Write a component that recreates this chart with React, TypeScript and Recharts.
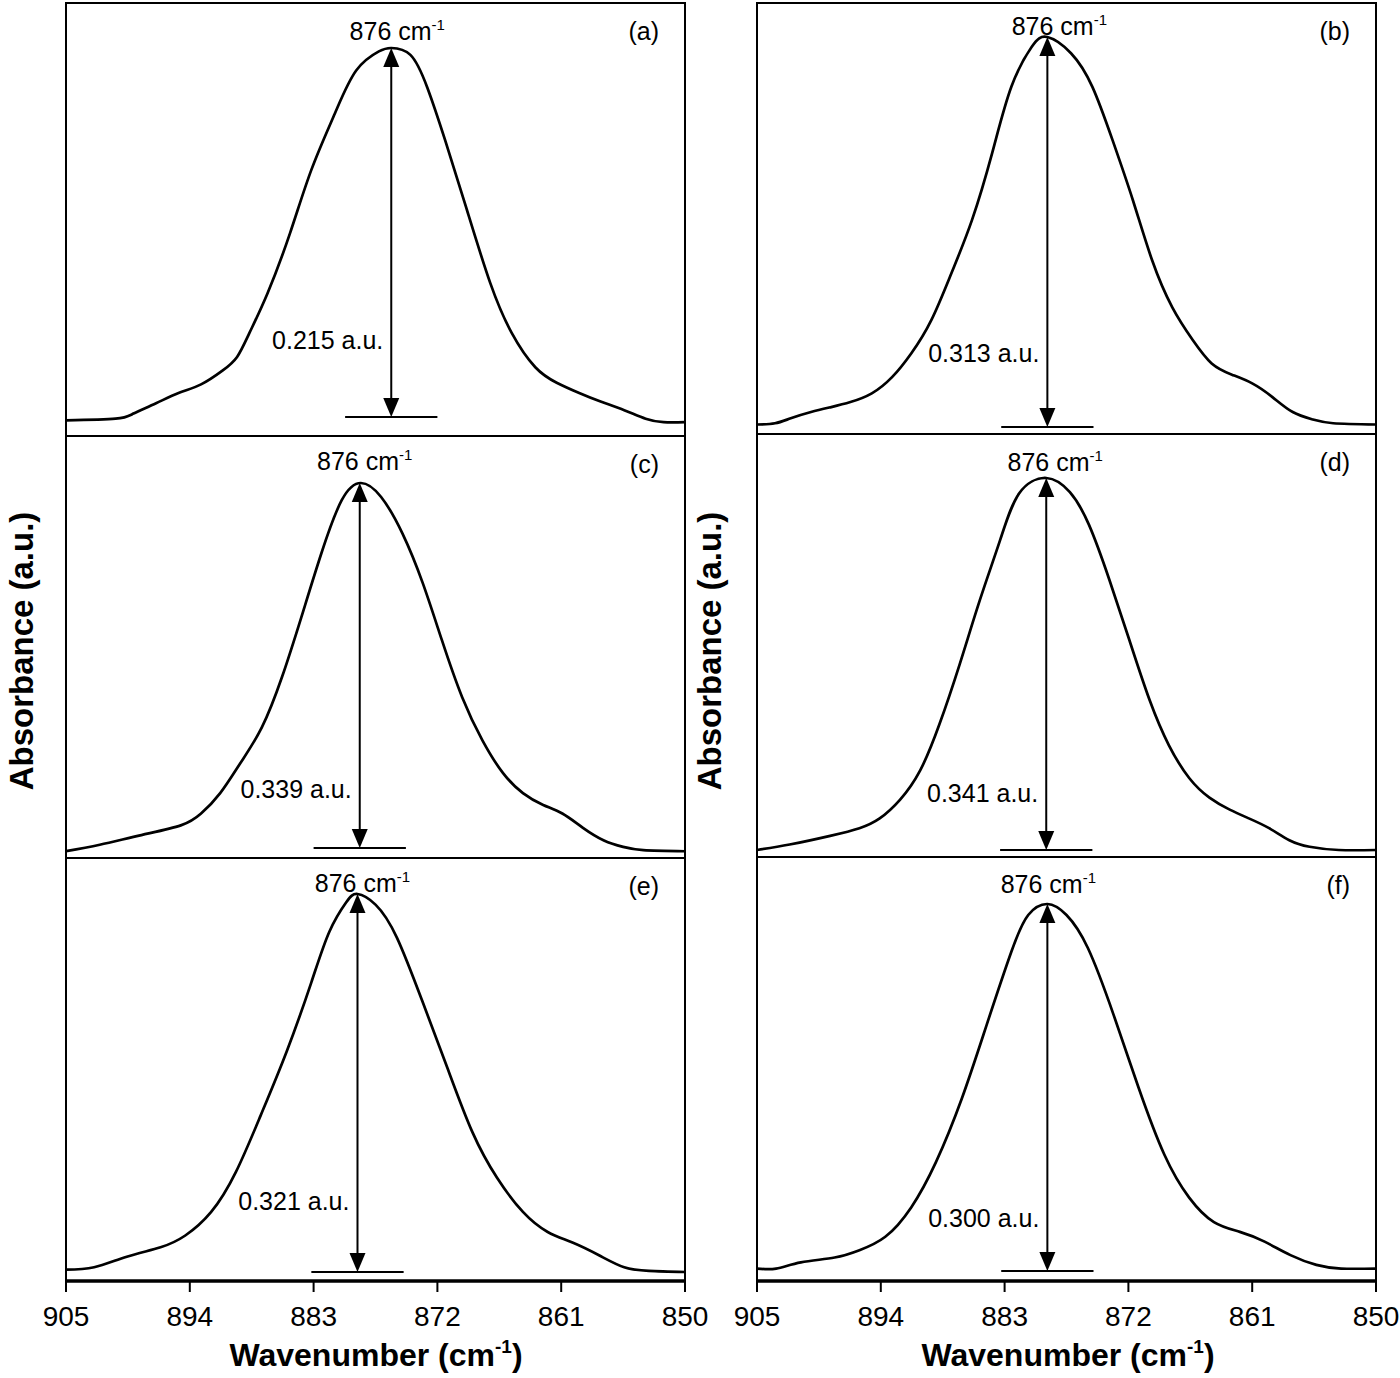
import React from "react";
import { LineChart, Line, XAxis, YAxis, ReferenceLine, ReferenceArea } from "recharts";

const FONT = "'Liberation Sans', Arial, Helvetica, sans-serif";

const TICKS = [905, 894, 883, 872, 861, 850];
const PANEL_TAGS = ["(a)", "(b)", "(c)", "(d)", "(e)", "(f)"];
const PEAK_LABEL = "876";
// measured peak heights (a.u.) and where the arrow stands (cm-1)
const PEAK_HEIGHTS = [0.215, 0.313, 0.339, 0.341, 0.321, 0.3];
const PEAK_POSITIONS = [876.1, 879.2, 878.9, 879.3, 879.1, 879.2];

// [wavenumber (cm-1), absorbance above baseline (a.u.)]
const spectrumA: [number, number][] = [
  [905, -0.002], [900.6, -0.001], [899, 0.002], [897, 0.008], [895, 0.014], [893, 0.019],
  [891.1, 0.027], [889.8, 0.035], [888.7, 0.049], [887.1, 0.072], [885.1, 0.107], [883.2, 0.144],
  [881.1, 0.177], [879.2, 0.202], [877.2, 0.213], [876.1, 0.215], [874.4, 0.211], [872.9, 0.192],
  [871.3, 0.161], [869.3, 0.119], [867.3, 0.078], [865.4, 0.049], [863.3, 0.029], [861.4, 0.02],
  [859.4, 0.014], [857.5, 0.009], [855.4, 0.004], [853.5, -0.001], [851.9, -0.003], [850, -0.003],
];
const spectrumB: [number, number][] = [
  [905, 0.002], [903.4, 0.003], [902, 0.007], [900.2, 0.012], [898.4, 0.016], [896.7, 0.02],
  [894.8, 0.027], [893, 0.04], [891.3, 0.059], [889.5, 0.086], [887.7, 0.124], [885.9, 0.166],
  [884.1, 0.22], [882.4, 0.273], [880.6, 0.305], [879.2, 0.313], [877.1, 0.3], [875.2, 0.273],
  [873.4, 0.23], [871.6, 0.182], [869.9, 0.134], [868.1, 0.096], [866.3, 0.07], [864.6, 0.051],
  [862.8, 0.042], [861, 0.035], [859.2, 0.024], [857.4, 0.012], [855.6, 0.006], [853.8, 0.003],
  [850, 0.002],
];
const spectrumC: [number, number][] = [
  [905, -0.003], [902, 0.003], [898.3, 0.012], [894.8, 0.021], [893, 0.032], [891.3, 0.051],
  [889.5, 0.079], [887.6, 0.112], [885.8, 0.159], [884.1, 0.214], [882.3, 0.274], [880.5, 0.323],
  [878.8, 0.339], [877, 0.326], [875.1, 0.292], [873.3, 0.246], [871.6, 0.193], [869.8, 0.14],
  [868, 0.1], [866.2, 0.07], [864.4, 0.051], [862.6, 0.04], [860.9, 0.032], [859.1, 0.019],
  [857.2, 0.007], [855.5, 0.001], [853.7, -0.002], [850, -0.003],
];
const spectrumD: [number, number][] = [
  [905, 0], [902.1, 0.005], [898.5, 0.013], [895.9, 0.02], [894.1, 0.029], [892.3, 0.046],
  [890.5, 0.073], [888.8, 0.115], [887, 0.17], [885.2, 0.229], [883.4, 0.284], [881.7, 0.327],
  [879.3, 0.341], [877.2, 0.328], [875.5, 0.298], [873.7, 0.248], [871.9, 0.192], [870.1, 0.137],
  [868.4, 0.096], [866.6, 0.066], [864.8, 0.048], [863, 0.037], [861.3, 0.029], [859.5, 0.02],
  [857.7, 0.009], [855.9, 0.003], [853.3, 0], [850, 0],
];
const spectrumE: [number, number][] = [
  [905, 0.002], [902.5, 0.004], [899.6, 0.013], [896.6, 0.021], [894.4, 0.031], [892.1, 0.051],
  [889.9, 0.085], [887.7, 0.133], [885.4, 0.187], [883.2, 0.246], [881.6, 0.289], [880.1, 0.314],
  [879.1, 0.321], [877.5, 0.312], [875.6, 0.284], [873.3, 0.229], [871.1, 0.173], [868.9, 0.119],
  [866.7, 0.08], [864.4, 0.051], [862.2, 0.034], [860, 0.025], [857.6, 0.014], [855.4, 0.004],
  [853.2, 0.001], [850, 0],
];
const spectrumF: [number, number][] = [
  [905, 0.002], [903.3, 0.002], [901.1, 0.007], [898.1, 0.011], [895.9, 0.017], [893.6, 0.028],
  [891.3, 0.052], [889.1, 0.089], [886.8, 0.141], [884.6, 0.201], [882.4, 0.261], [880.9, 0.291],
  [879.2, 0.3], [877.5, 0.291], [875.6, 0.264], [873.3, 0.209], [871.1, 0.15], [868.8, 0.095],
  [866.6, 0.06], [864.4, 0.04], [862.1, 0.032], [859.9, 0.024], [857.6, 0.013], [855.3, 0.005],
  [853.1, 0.002], [850, 0.002],
];
const SPECTRA = [spectrumA, spectrumB, spectrumC, spectrumD, spectrumE, spectrumF];

// page layout (px): plot box and where baseline / peak sit inside it
type Layout = {
  left: number; top: number; bottom: number; zeroPx: number; peakPx: number;
  axis: boolean; labelY: number; labelDx: number; noteRise: number;
};
const LAYOUT: Layout[] = [
  { left: 66, top: 3, bottom: 436, zeroPx: 417, peakPx: 48, axis: false, labelY: 37, labelDx: 6, noteRise: 68 },
  { left: 757, top: 3, bottom: 434, zeroPx: 427, peakPx: 37, axis: false, labelY: 32, labelDx: 12, noteRise: 65 },
  { left: 66, top: 436, bottom: 858, zeroPx: 848, peakPx: 483, axis: false, labelY: 34, labelDx: 5, noteRise: 50 },
  { left: 757, top: 434, bottom: 857, zeroPx: 850, peakPx: 478, axis: false, labelY: 37, labelDx: 9, noteRise: 48 },
  { left: 66, top: 858, bottom: 1281, zeroPx: 1272, peakPx: 894, axis: true, labelY: 34, labelDx: 5, noteRise: 62 },
  { left: 757, top: 857, bottom: 1281, zeroPx: 1271, peakPx: 904, axis: true, labelY: 36, labelDx: 1, noteRise: 44 },
];
const PLOT_W = 619;
const MX = 40;
const MT = 10;
const AXIS_H = 60;

function arrowShape(i: number, lay: Layout) {
  return (props: any) => {
    const { x1, y1, y2 } = props;
    const x = x1;
    const yb = Math.max(y1, y2);
    const yt = Math.min(y1, y2);
    const hw = 8;
    const hh = 19;
    return (
      <g>
        <line x1={x} x2={x} y1={yt + hh - 2} y2={yb - hh + 2} stroke="#000" strokeWidth={2} />
        <polygon points={`${x},${yt} ${x - hw},${yt + hh} ${x + hw},${yt + hh}`} fill="#000" />
        <polygon points={`${x},${yb} ${x - hw},${yb - hh} ${x + hw},${yb - hh}`} fill="#000" />
        <text x={x - 8} y={yb - lay.noteRise} textAnchor="end" fontSize={25} fontFamily={FONT} fill="#000">
          {PEAK_HEIGHTS[i].toFixed(3)} a.u.
        </text>
        <text x={x + lay.labelDx} y={MT + lay.labelY} textAnchor="middle" fontSize={25} fontFamily={FONT} fill="#000">
          {PEAK_LABEL} cm
          <tspan fontSize={15} dy={-10}>-1</tspan>
        </text>
        <text x={MX + PLOT_W - 26} y={MT + 37} textAnchor="end" fontSize={25} fontFamily={FONT} fill="#000">
          {PANEL_TAGS[i]}
        </text>
      </g>
    );
  };
}

function Panel({ i }: { i: number }) {
  const lay = LAYOUT[i];
  const peak = PEAK_HEIGHTS[i];
  const pos = PEAK_POSITIONS[i];
  const scale = (lay.zeroPx - lay.peakPx) / peak;
  const lo = -(lay.bottom - lay.zeroPx) / scale;
  const hi = (lay.zeroPx - lay.top) / scale;
  const data = SPECTRA[i].map(([w, a]) => ({ w, a }));
  const boxH = lay.bottom - lay.top;
  const mb = lay.axis ? 0 : 4;
  const height = MT + boxH + (lay.axis ? AXIS_H : mb);
  return (
    <div style={{ position: "absolute", left: lay.left - MX, top: lay.top - MT }}>
      <LineChart
        width={PLOT_W + 2 * MX}
        height={height}
        data={data}
        margin={{ top: MT, right: MX, bottom: mb, left: MX }}
      >
        <XAxis
          dataKey="w"
          type="number"
          domain={[850, 905]}
          reversed
          ticks={TICKS}
          hide={!lay.axis}
          height={AXIS_H}
          tickSize={11}
          tickMargin={14}
          axisLine={{ stroke: "#000", strokeWidth: 3.5 }}
          tickLine={{ stroke: "#000", strokeWidth: 2 }}
          tick={{ fill: "#000", fontSize: 28, fontFamily: FONT }}
          interval={0}
          allowDataOverflow
        />
        <YAxis type="number" domain={[lo, hi]} hide allowDataOverflow />
        <ReferenceArea
          x1={905}
          x2={850}
          y1={lo}
          y2={hi}
          fill="none"
          stroke="#000"
          strokeWidth={2}
          fillOpacity={0}
          ifOverflow="visible"
        />
        <Line
          dataKey="a"
          type="natural"
          stroke="#000"
          strokeWidth={2.7}
          dot={false}
          activeDot={false}
          isAnimationActive={false}
        />
        <ReferenceLine
          segment={[{ x: pos + 4.1, y: 0 }, { x: pos - 4.1, y: 0 }]}
          stroke="#000"
          strokeWidth={2}
          ifOverflow="visible"
        />
        <ReferenceLine
          segment={[{ x: pos, y: 0 }, { x: pos, y: peak }]}
          stroke="#000"
          ifOverflow="visible"
          shape={arrowShape(i, lay)}
        />
      </LineChart>
    </div>
  );
}

export default function App() {
  return (
    <div style={{ position: "absolute", left: 0, top: 0, width: 1400, height: 1378, background: "#fff", fontFamily: FONT }}>
      {LAYOUT.map((_, i) => (
        <Panel key={i} i={i} />
      ))}
      <svg width={1400} height={1378} style={{ position: "absolute", left: 0, top: 0, pointerEvents: "none" }}>
        {[376, 1068].map((cx) => (
          <text key={cx} x={cx} y={1366} textAnchor="middle" fontSize={32} fontWeight="bold" fontFamily={FONT} fill="#000">
            Wavenumber (cm
            <tspan fontSize={19} dy={-13}>-1</tspan>
            <tspan dy={13}>)</tspan>
          </text>
        ))}
        {[33, 721].map((bx) => (
          <text
            key={bx}
            x={bx}
            y={651}
            transform={`rotate(-90 ${bx} 651)`}
            textAnchor="middle"
            fontSize={33}
            fontWeight="bold"
            fontFamily={FONT}
            fill="#000"
          >
            Absorbance (a.u.)
          </text>
        ))}
      </svg>
    </div>
  );
}
